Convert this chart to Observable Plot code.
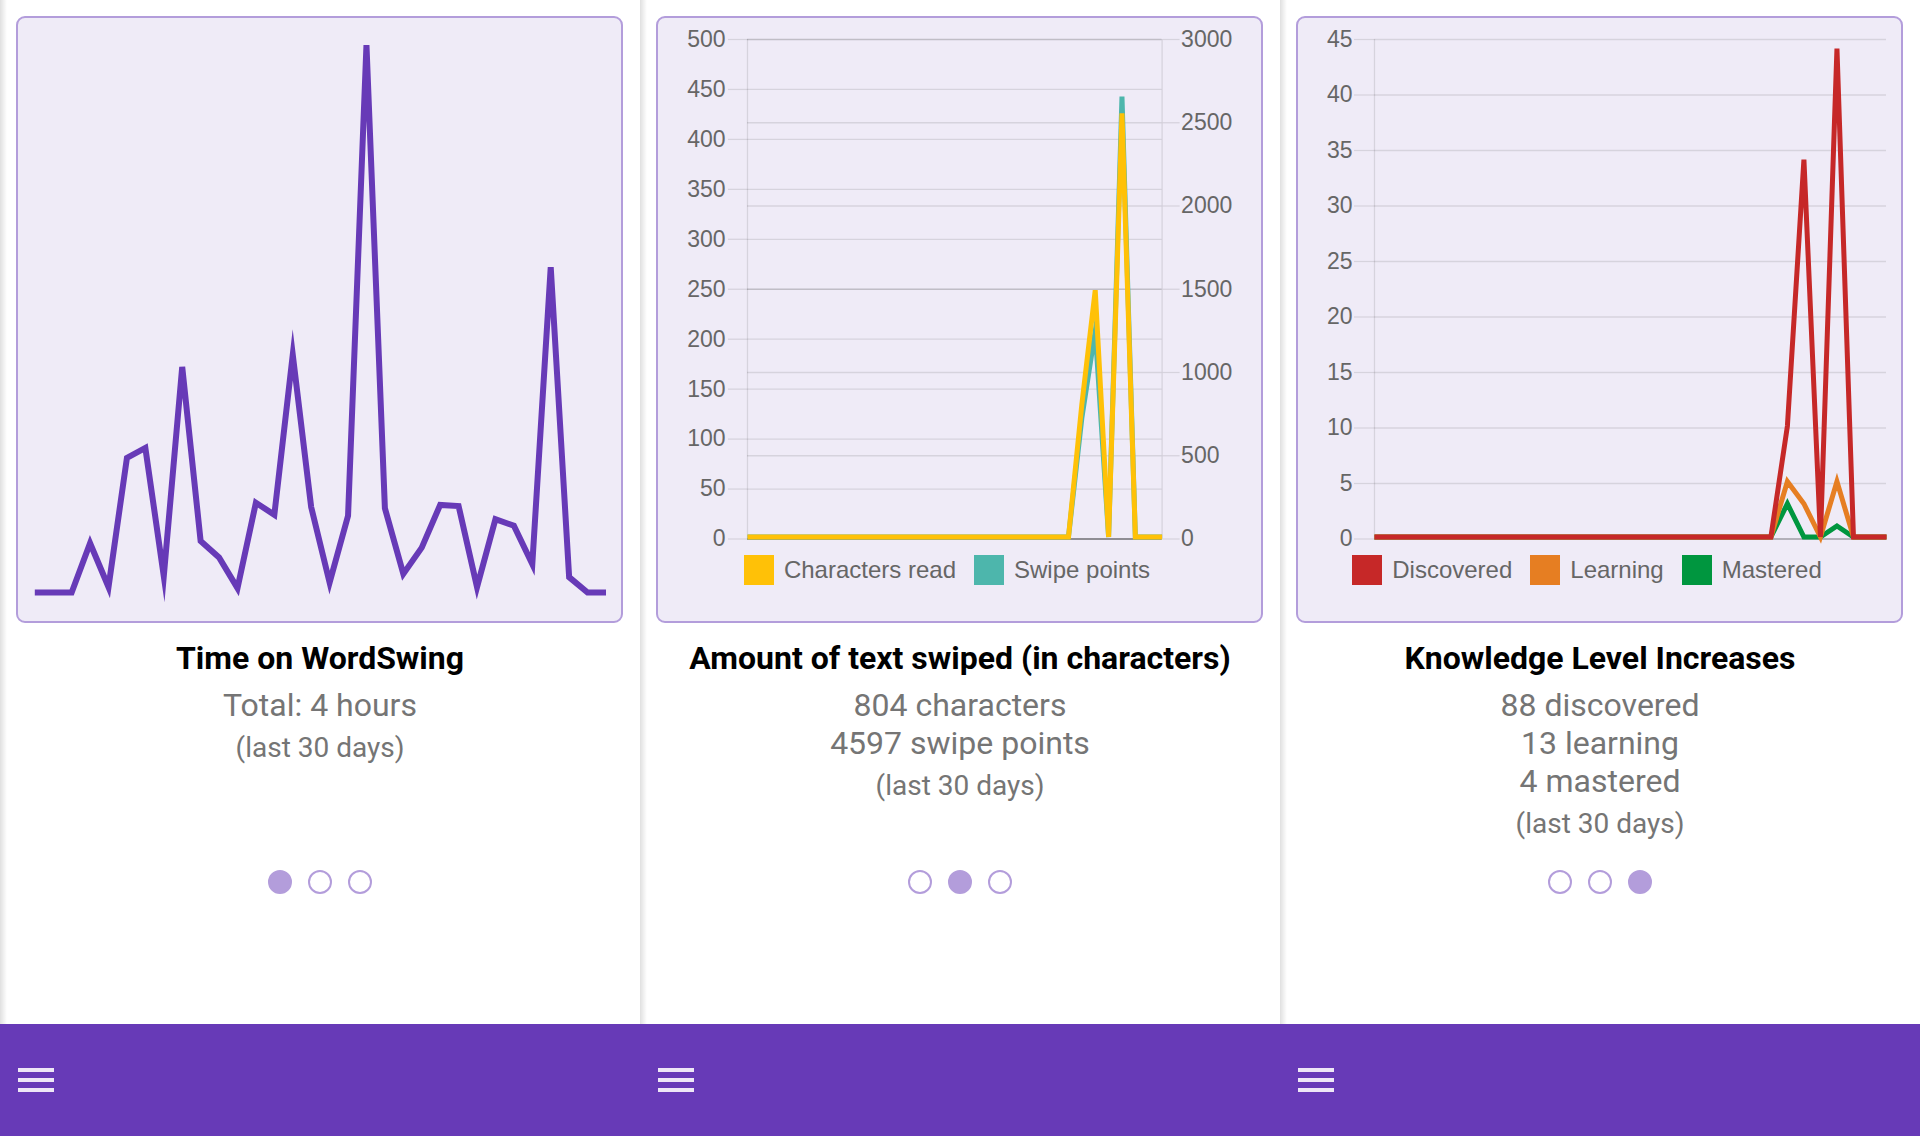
<!DOCTYPE html>
<html>
<head>
<meta charset="utf-8">
<script src="https://cdn.jsdelivr.net/npm/d3@7"></script>
<script src="https://cdn.jsdelivr.net/npm/@observablehq/plot@0.6"></script>
<style>
html,body{margin:0;padding:0;background:#fff;}
body{width:1920px;height:1136px;position:relative;overflow:hidden;font-family:Roboto,sans-serif;}
.panel{position:absolute;top:0;width:640px;height:1024px;background:#fff;}
.shade{position:absolute;left:0;top:0;width:7px;height:1024px;background:linear-gradient(to right,rgba(0,0,0,0.12),rgba(0,0,0,0));}
.card{position:absolute;left:16px;top:16px;width:607px;height:607px;box-sizing:border-box;border:2px solid #b39ddb;border-radius:9px;background:#efebf7;}
.chart{position:absolute;left:0;top:0;}
.title{position:absolute;left:0;width:640px;top:639px;text-align:center;font-weight:700;font-size:32px;line-height:38px;color:#000;}
.sub{position:absolute;left:0;width:640px;top:686px;text-align:center;font-weight:400;font-size:32px;line-height:38px;color:#757575;}
.sub .last{font-size:28px;line-height:40px;margin-top:4px;}
.dot{position:absolute;top:869.7px;width:24px;height:24px;box-sizing:border-box;border:2px solid #b39ddb;border-radius:50%;}
.dot.on{background:#b39ddb;}
.legend{position:absolute;top:555px;left:14px;width:586px;height:30px;display:flex;justify-content:center;align-items:center;gap:18px;font-family:'Liberation Sans',Arial,sans-serif;font-size:24px;line-height:30px;color:#666;}
.legend .item{display:flex;align-items:center;white-space:nowrap;}
.legend .sw{width:30px;height:30px;margin-right:10px;}
.bar{position:absolute;left:0;top:1024px;width:1920px;height:112px;background:#673ab7;}
.burger{position:absolute;width:36px;height:3.4px;background:#ede7f6;}
</style>
</head>
<body>
<div id="root"></div>
<div class="bar" id="bar"></div>
<script>
// ---------- data ----------
const days = [0,1,2,3,4,5,6,7,8,9,10,11,12,13,14,15,16,17,18,19,20,21,22,23,24,25,26,27,28,29,30,31];

// Panel 1: minutes per day
const timeMinutes = [0,0,0,4.5,0.5,12.3,13.2,1.5,20.6,4.7,3.2,0.4,8.2,7.1,21.7,7.8,0.9,7.0,50,7.7,1.7,4.1,8.0,7.9,0.5,6.7,6.1,2.6,29.7,1.4,0,0];

// Panel 2
const charsRead   = [0,0,0,0,0,0,0,0,0,0,0,0,0,0,0,0,0,0,0,0,0,0,0,0,0,133,247,0,424,0,0,0];
const swipePoints = [0,0,0,0,0,0,0,0,0,0,0,0,0,0,0,0,0,0,0,0,0,0,0,0,0,715,1237,0,2645,0,0,0];
const leftTicks2  = [0,50,100,150,200,250,300,350,400,450,500];
const rightTicks2 = [0,500,1000,1500,2000,2500,3000];
const series2Names  = ["Characters read","Swipe points"];
const series2Colors = ["#ffc107","#4db6ac"];

// Panel 3
const discovered = [0,0,0,0,0,0,0,0,0,0,0,0,0,0,0,0,0,0,0,0,0,0,0,0,0,10,34,0,44,0,0,0];
const learning   = [0,0,0,0,0,0,0,0,0,0,0,0,0,0,0,0,0,0,0,0,0,0,0,0,0,5,3,0,5,0,0,0];
const mastered   = [0,0,0,0,0,0,0,0,0,0,0,0,0,0,0,0,0,0,0,0,0,0,0,0,0,3,0,0,1,0,0,0];
const ticks3 = [0,5,10,15,20,25,30,35,40,45];
const series3Names  = ["Discovered","Learning","Mastered"];
const series3Colors = ["#c62828","#e67e22","#00963f"];

const titles = ["Time on WordSwing","Amount of text swiped (in characters)","Knowledge Level Increases"];
const subtitles = [["Total: 4 hours"],["804 characters","4597 swipe points"],["88 discovered","13 learning","4 mastered"]];
const lastLabel = "(last 30 days)";

// ---------- shared styles ----------
const lineStyle = {strokeLinejoin:"miter", strokeLinecap:"butt", strokeMiterlimit:10};
const gridStyle = {stroke:"#000", strokeOpacity:0.1, strokeWidth:1.3};
const plotStyle = {background:"transparent", overflow:"visible", fontFamily:"'Liberation Sans', Arial, sans-serif", fontSize:"23px", color:"#666"};
const axisStyle = {stroke:"#000", strokeOpacity:0.1, strokeWidth:1.3, fill:"#666", fontSize:23, label:null};

// ---------- charts ----------
const chart1 = Plot.plot({
  width:640, height:640,
  marginLeft:34.3, marginRight:34.5, marginTop:44.5, marginBottom:48,
  x:{domain:[0,31], axis:null},
  y:{domain:[0,50], axis:null},
  style:plotStyle,
  marks:[
    Plot.line(timeMinutes, {x:days, y:timeMinutes, stroke:"#673ab7", strokeWidth:6, ...lineStyle})
  ]
});

const chart2 = Plot.plot({
  width:640, height:640,
  marginLeft:107, marginRight:118.4, marginTop:39, marginBottom:101.5,
  x:{domain:[0,31], axis:null},
  y:{domain:[0,500]},
  style:plotStyle,
  marks:[
    Plot.gridY(leftTicks2.filter(v => v > 0), gridStyle),
    Plot.gridY(rightTicks2.filter(v => v > 0).map(v => v / 6), gridStyle),
    Plot.ruleX([0,31], gridStyle),
    Plot.axisY(leftTicks2, {anchor:"left", tickSize:19, tickPadding:3, tickFormat:d => String(d), ...axisStyle}),
    Plot.axisY(rightTicks2.map(v => v / 6), {anchor:"right", tickSize:17, tickPadding:2, tickFormat:d => String(Math.round(d * 6)), ...axisStyle}),
    Plot.ruleY([0], {stroke:"#000", strokeOpacity:0.4, strokeWidth:2}),
    Plot.line(swipePoints, {x:days, y:swipePoints.map(v => v / 6), stroke:series2Colors[1], strokeWidth:5, dy:-2, ...lineStyle}),
    Plot.line(charsRead, {x:days, y:charsRead, stroke:series2Colors[0], strokeWidth:5, dy:-2, ...lineStyle})
  ]
});

const chart3 = Plot.plot({
  width:640, height:640,
  marginLeft:94, marginRight:34, marginTop:39, marginBottom:101.5,
  x:{domain:[0,31], axis:null},
  y:{domain:[0,45]},
  style:plotStyle,
  marks:[
    Plot.gridY(ticks3.filter(v => v > 0), gridStyle),
    Plot.ruleX([0], gridStyle),
    Plot.axisY(ticks3, {anchor:"left", tickSize:20, tickPadding:2, tickFormat:d => String(d), ...axisStyle}),
    Plot.ruleY([0], {stroke:"#000", strokeOpacity:0.25, strokeWidth:2}),
    Plot.line(mastered,   {x:days, y:mastered,   stroke:series3Colors[2], strokeWidth:5, dy:-2, ...lineStyle}),
    Plot.line(learning,   {x:days, y:learning,   stroke:series3Colors[1], strokeWidth:5, dy:-2, ...lineStyle}),
    Plot.line(discovered, {x:days, y:discovered, stroke:series3Colors[0], strokeWidth:5, dy:-2, ...lineStyle})
  ]
});

const charts = [chart1, chart2, chart3];
const legends = [null, {names:series2Names, colors:series2Colors}, {names:series3Names, colors:series3Colors}];

// ---------- layout ----------
const root = document.getElementById("root");
charts.forEach((svg, p) => {
  const panel = document.createElement("div");
  panel.className = "panel";
  panel.style.left = (p * 640) + "px";

  const card = document.createElement("div");
  card.className = "card";
  panel.appendChild(card);

  svg.classList.add("chart");
  svg.style.position = "absolute";
  svg.style.left = "0px";
  svg.style.top = "0px";
  panel.appendChild(svg);

  if (legends[p]) {
    const lg = document.createElement("div");
    lg.className = "legend";
    legends[p].names.forEach((n, i) => {
      const it = document.createElement("div");
      it.className = "item";
      const sw = document.createElement("div");
      sw.className = "sw";
      sw.style.background = legends[p].colors[i];
      const tx = document.createElement("span");
      tx.textContent = n;
      it.appendChild(sw); it.appendChild(tx);
      lg.appendChild(it);
    });
    panel.appendChild(lg);
  }

  const t = document.createElement("div");
  t.className = "title";
  t.textContent = titles[p];
  panel.appendChild(t);

  const s = document.createElement("div");
  s.className = "sub";
  subtitles[p].forEach(line => {
    const d = document.createElement("div");
    d.textContent = line;
    s.appendChild(d);
  });
  const last = document.createElement("div");
  last.className = "last";
  last.textContent = lastLabel;
  s.appendChild(last);
  panel.appendChild(s);

  [0,1,2].forEach(i => {
    const dot = document.createElement("div");
    dot.className = "dot" + (i === p ? " on" : "");
    dot.style.left = (268 + i * 40) + "px";
    panel.appendChild(dot);
  });

  const shade = document.createElement("div");
  shade.className = "shade";
  panel.appendChild(shade);

  root.appendChild(panel);
});

const bar = document.getElementById("bar");
[0,1,2].forEach(p => {
  [0,1,2].forEach(k => {
    const b = document.createElement("div");
    b.className = "burger";
    b.style.left = (p * 640 + 18.3) + "px";
    b.style.top = (44.3 + k * 10) + "px";
    bar.appendChild(b);
  });
});
</script>
</body>
</html>
